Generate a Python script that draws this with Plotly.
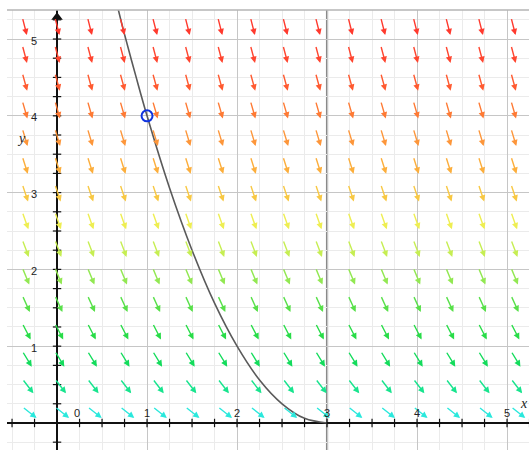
import numpy as np
import plotly.graph_objects as go

# ---------------- data ----------------
# slope field grid (arrow tail positions)
field_x = [-0.385, -0.023, 0.339, 0.701, 1.063, 1.425, 1.787, 2.149,
           2.511, 2.873, 3.235, 3.597, 3.959, 4.321, 4.683, 5.045]
field_y = [0.210, 0.572, 0.934, 1.296, 1.658, 2.020, 2.382, 2.744,
           3.106, 3.468, 3.830, 4.192, 4.554, 4.916, 5.278]
# slope of each row (dy/dx)
row_slopes = [-0.92, -1.51, -1.93, -2.28, -2.58, -2.84, -3.09, -3.31,
              -3.52, -3.72, -3.91, -4.09, -4.27, -4.43, -4.59]

# solution curve
curve_x = [0.66, 0.75, 0.875, 1.0, 1.25, 1.5, 1.75, 2.0, 2.25, 2.5, 2.75, 3.0]
curve_y = [5.48, 5.06, 4.52, 4.0, 3.06, 2.25, 1.56, 1.0, 0.56, 0.25, 0.06, 0.0]

point_x = [1]
point_y = [4]

x_tick_vals = [0, 1, 2, 3, 4, 5]
x_tick_text = ["0", "1", "2", "3", "4", "5"]
y_tick_vals = [1, 2, 3, 4, 5]
y_tick_text = ["1", "2", "3", "4", "5"]

line_x = 3

# ---------------- style ----------------
row_colors = ["#2ae8dc", "#18e48e", "#14dc5c", "#28dc48", "#58e04a", "#92e852",
              "#c6ee52", "#eeee52", "#f8c844", "#fcae3c", "#fd963a", "#fe7a34",
              "#ff5a30", "#ff4630", "#ff3a2e"]

W, H = 529, 450
ML, MR, MT, MB = 7, 0, 10, 0
xr = [-0.556, 5.244]
yr = [-0.352, 5.378]
pw, ph = W - ML - MR, H - MT - MB
ppx = pw / (xr[1] - xr[0])
ppy = ph / (yr[1] - yr[0])
ARROW_LEN = 18.0

fig = go.Figure()

# solution curve
fig.add_trace(go.Scatter(x=curve_x, y=curve_y, mode="lines",
                         line=dict(color="#5a5a5a", width=1.6, shape="spline"),
                         hoverinfo="skip", showlegend=False))

# axis tick marks
xt = np.arange(-0.5, 5.26, 0.25)
yt = np.arange(-0.25, 5.3, 0.25)
fig.add_trace(go.Scatter(x=xt, y=[0] * len(xt), mode="markers",
                         marker=dict(symbol="line-ns", size=6, color="#111",
                                     line=dict(color="#111", width=1.2)),
                         hoverinfo="skip", showlegend=False))
fig.add_trace(go.Scatter(x=[0] * len(yt), y=yt, mode="markers",
                         marker=dict(symbol="line-ew", size=6, color="#111",
                                     line=dict(color="#111", width=1.2)),
                         hoverinfo="skip", showlegend=False))

# y-axis arrow head
fig.add_trace(go.Scatter(x=[0], y=[5.285], mode="markers",
                         marker=dict(symbol="triangle-up", size=10, color="#111"),
                         hoverinfo="skip", showlegend=False))

# point
fig.add_trace(go.Scatter(x=point_x, y=point_y, mode="markers",
                         marker=dict(symbol="circle-open", size=11, color="#1034e0",
                                     line=dict(color="#1034e0", width=2)),
                         hoverinfo="skip", showlegend=False))

annotations = []
# slope field arrows
for j, yv in enumerate(field_y):
    s = row_slopes[j]
    dxp, dyp = ppx * 1.0, s * ppy
    n = np.hypot(dxp, dyp)
    ux, uy = dxp / n * ARROW_LEN / ppx, dyp / n * ARROW_LEN / ppy
    for xv in field_x:
        annotations.append(dict(
            x=xv + ux, y=yv + uy, ax=xv, ay=yv, xref="x", yref="y",
            axref="x", ayref="y", text="", showarrow=True,
            arrowhead=2, arrowsize=0.9, arrowwidth=1.4,
            arrowcolor=row_colors[j], standoff=0, startstandoff=0))

# tick labels
for v, t in zip(x_tick_vals, x_tick_text):
    annotations.append(dict(x=v + (0.22 if v == 0 else 0), y=0.13, text=t,
                            xref="x", yref="y", showarrow=False,
                            font=dict(family="Liberation Sans", size=11, color="#222")))
for v, t in zip(y_tick_vals, y_tick_text):
    annotations.append(dict(x=-0.255, y=v - 0.02, text=t,
                            xref="x", yref="y", showarrow=False,
                            font=dict(family="Liberation Sans", size=11, color="#222")))
# axis names
annotations.append(dict(x=5.19, y=0.26, text="<i>x</i>", xref="x", yref="y",
                        showarrow=False,
                        font=dict(family="Liberation Serif", size=14, color="#222")))
annotations.append(dict(x=-0.4, y=3.71, text="<i>y</i>", xref="x", yref="y",
                        showarrow=False,
                        font=dict(family="Liberation Serif", size=14, color="#222")))

shapes = [
    dict(type="line", xref="x", yref="paper", x0=line_x, x1=line_x, y0=0, y1=1,
         line=dict(color="#8a8a8a", width=2.2), layer="below"),
    dict(type="line", xref="paper", yref="paper", x0=0, x1=1, y0=1, y1=1,
         line=dict(color="#b4b4b4", width=1.5)),
]

fig.update_layout(
    width=W, height=H,
    margin=dict(l=ML, r=MR, t=MT, b=MB),
    paper_bgcolor="white", plot_bgcolor="white",
    showlegend=False,
    annotations=annotations,
    shapes=shapes,
    xaxis=dict(range=xr, showticklabels=False, ticks="", dtick=1, tick0=0,
               showgrid=True, gridcolor="#c6c6c6", gridwidth=1,
               minor=dict(dtick=0.25, tick0=0, showgrid=True, gridcolor="#ebebeb", gridwidth=1),
               zeroline=True, zerolinecolor="#111", zerolinewidth=1.6,
               showline=False, fixedrange=True),
    yaxis=dict(range=yr, showticklabels=False, ticks="", dtick=1, tick0=0,
               showgrid=True, gridcolor="#c6c6c6", gridwidth=1,
               minor=dict(dtick=0.25, tick0=0, showgrid=True, gridcolor="#ebebeb", gridwidth=1),
               zeroline=True, zerolinecolor="#111", zerolinewidth=1.6,
               showline=False, fixedrange=True),
)

fig.write_html("out.html")
